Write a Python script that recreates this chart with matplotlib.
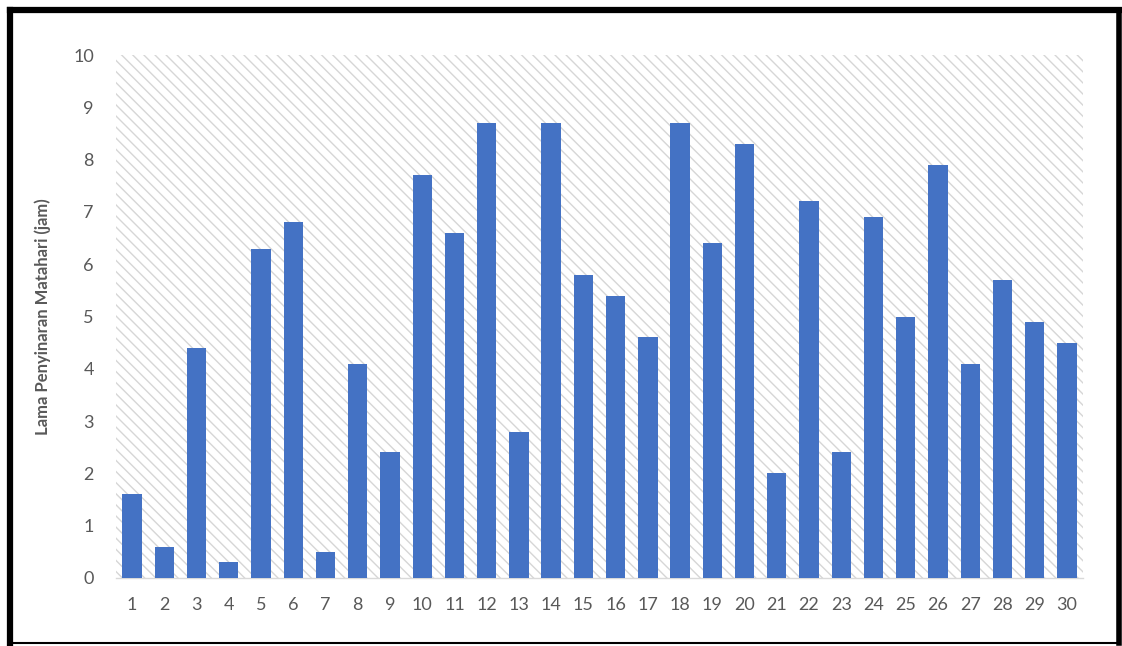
import matplotlib.pyplot as plt
from matplotlib.lines import Line2D

# lama penyinaran matahari harian (jam), hari ke-1 s/d 30
hari = [str(i) for i in range(1, 31)]
lama_jam = [1.6, 0.6, 4.4, 0.3, 6.3, 6.8, 0.5, 4.1, 2.4, 7.7,
            6.6, 8.7, 2.8, 8.7, 5.8, 5.4, 4.6, 8.7, 6.4, 8.3,
            2.0, 7.2, 2.4, 6.9, 5.0, 7.9, 4.1, 5.7, 4.9, 4.5]
y_ticks = list(range(0, 11))

W, H = 1122, 646
plt.rcParams['hatch.linewidth'] = 1.0
fig = plt.figure(figsize=(W / 100, H / 100), dpi=100)
fig.patch.set_facecolor('white')

ax = fig.add_axes([116 / W, 1 - 578 / H, (1083 - 116) / W, (578 - 55) / H])
ax.set_facecolor('white')

# striped plot area background
bg = plt.Rectangle((0, 0), 1, 1, transform=ax.transAxes, facecolor='white',
                   edgecolor='#d6d6d6', hatch='\\\\\\', linewidth=0, zorder=0)
ax.add_patch(bg)

x = list(range(len(hari)))
ax.bar(x, lama_jam, width=0.6, color='#4472C4', zorder=3)

ax.set_xlim(-0.5, len(hari) - 0.5)
ax.set_ylim(0, 10)
ax.set_yticks(y_ticks)
ax.set_xticks(x)
ax.set_xticklabels(hari)

for s in ['top', 'right', 'left']:
    ax.spines[s].set_visible(False)
ax.spines['bottom'].set_color('#d9d9d9')
ax.spines['bottom'].set_linewidth(1.0)
ax.tick_params(length=0, labelsize=13, labelcolor='#595959', labelfontfamily='Lato')
ax.tick_params(axis='x', pad=14)
ax.tick_params(axis='y', pad=16)

ax.set_ylabel('Lama Penyinaran Matahari (jam)', fontsize=12, fontweight='bold',
              color='#595959', family='Lato', labelpad=16)

# black frame around the chart
def frame(x0, y0, x1, y1, lw):
    fig.add_artist(Line2D([x0 / W, x1 / W], [1 - y0 / H, 1 - y1 / H],
                          color='black', linewidth=lw, transform=fig.transFigure,
                          solid_capstyle='projecting'))

frame(10, 10, 10, 643, 4.5)
frame(10, 10, 1119, 10, 4.5)
frame(1119, 10, 1119, 643, 4.0)
frame(10, 643, 1119, 643, 1.5)

fig.savefig('out.png', dpi=100, facecolor='white')
